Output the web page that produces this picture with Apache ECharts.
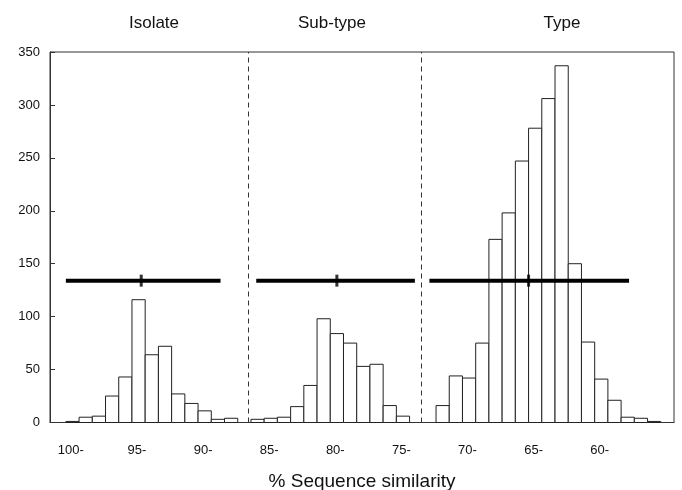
<!DOCTYPE html>
<html>
<head>
<meta charset="utf-8">
<script src="https://cdn.jsdelivr.net/npm/echarts@6/dist/echarts.min.js"></script>
<style>
html,body{margin:0;padding:0;background:#fff;}
#chart{width:682px;height:490px;}
</style>
</head>
<body>
<div id="chart"></div>
<script>
// ---- data ----
const xTickValues = [100, 95, 90, 85, 80, 75, 70, 65, 60];
const isolateBins = [100, 99, 98, 97, 96, 95, 94, 93, 92, 91, 90, 89, 88];
const isolateCounts = [1, 5, 6, 25, 43, 116, 64, 72, 27, 18, 11, 3, 4];
const subtypeBins = [86, 85, 84, 83, 82, 81, 80, 79, 78, 77, 76, 75];
const subtypeCounts = [3, 4, 5, 15, 35, 98, 84, 75, 53, 55, 16, 6];
const typeBins = [72, 71, 70, 69, 68, 67, 66, 65, 64, 63, 62, 61, 60, 59, 58, 57, 56];
const typeCounts = [16, 44, 42, 75, 173, 198, 247, 278, 306, 337, 150, 76, 41, 21, 5, 4, 1];
const rangeLevel = 134;
const isolateRange = [100, 88.3];
const isolateMean = 94.3;
const subtypeRange = [85.6, 73.6];
const subtypeMean = 79.5;
const typeRange = [72.5, 57.4];
const typeMean = 65.0;
const dividers = [86.2, 73.1];
const panelTitles = ['Isolate', 'Sub-type', 'Type'];
const xAxisTitle = '% Sequence similarity';

// ---- build ----
const FONT = "'Liberation Sans', Arial, Helvetica, sans-serif";
function binData(bins, counts) {
  return bins.map((b, i) => [b, b - 1, counts[i]]);
}
const allBins = [].concat(
  binData(isolateBins, isolateCounts),
  binData(subtypeBins, subtypeCounts),
  binData(typeBins, typeCounts)
);

const chart = echarts.init(document.getElementById('chart'), null, {renderer: 'canvas'});

function rangeSeries(range) {
  return {
    type: 'line',
    data: [[range[0], rangeLevel], [range[1], rangeLevel]],
    symbol: 'none',
    silent: true,
    lineStyle: {color: '#000', width: 4},
    z: 5
  };
}

const titlePos = [154, 332, 562];

chart.setOption({
  animation: false,
  backgroundColor: '#fff',
  textStyle: {fontFamily: FONT},
  grid: {
    left: 50, right: 8, top: 52, bottom: 67.5,
    containLabel: false,
    outerBoundsMode: 'none',
    show: true, borderColor: '#333', borderWidth: 1
  },
  graphic: panelTitles.map((t, i) => ({
    type: 'text',
    x: titlePos[i], y: 23,
    style: {
      text: t, fontSize: 17, fontFamily: FONT, fill: '#111',
      textAlign: 'center', textVerticalAlign: 'middle'
    }
  })),
  xAxis: {
    type: 'value',
    min: 54, max: 101.2,
    inverse: true,
    name: xAxisTitle,
    nameLocation: 'middle',
    nameGap: 50,
    nameTextStyle: {fontSize: 19, color: '#111', fontFamily: FONT},
    axisLine: {show: true, lineStyle: {color: '#333', width: 1}},
    axisTick: {show: false},
    splitLine: {show: false},
    axisLabel: {
      customValues: xTickValues,
      formatter: v => v + '-',
      fontSize: 13, color: '#111', margin: 21,
      padding: [0, 0, 0, 10]
    }
  },
  yAxis: {
    type: 'value',
    min: 0, max: 350, interval: 50,
    axisLine: {show: true, lineStyle: {color: '#333', width: 1}},
    axisTick: {show: true, inside: true, length: 5, lineStyle: {color: '#333'}},
    splitLine: {show: false},
    axisLabel: {fontSize: 13, color: '#111', margin: 10, padding: [3, 0, 0, 0]}
  },
  series: [
    {
      type: 'custom',
      data: allBins,
      encode: {x: [0, 1], y: 2},
      renderItem: function (params, api) {
        const p1 = api.coord([api.value(0), api.value(2)]);
        const p2 = api.coord([api.value(1), 0]);
        return {
          type: 'rect',
          shape: {x: p1[0], y: p1[1], width: p2[0] - p1[0], height: p2[1] - p1[1]},
          style: {fill: '#fff', stroke: '#222', lineWidth: 1}
        };
      },
      z: 2
    },
    rangeSeries(isolateRange),
    rangeSeries(subtypeRange),
    rangeSeries(typeRange),
    {
      type: 'scatter',
      data: [[isolateMean, rangeLevel], [subtypeMean, rangeLevel], [typeMean, rangeLevel]],
      symbol: 'rect',
      symbolSize: [3, 12],
      itemStyle: {color: '#000'},
      silent: true,
      z: 6
    },
    {
      type: 'line',
      data: [],
      markLine: {
        silent: true,
        symbol: 'none',
        label: {show: false},
        lineStyle: {type: [5, 4], color: '#333', width: 1},
        data: dividers.map(d => ({xAxis: d}))
      }
    }
  ]
});
</script>
</body>
</html>
